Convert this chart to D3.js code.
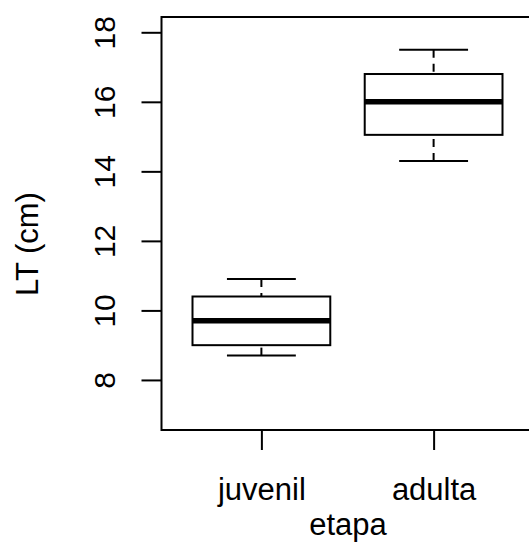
<!DOCTYPE html>
<html>
<head>
<meta charset="utf-8">
<script src="https://cdn.jsdelivr.net/npm/d3@7"></script>
<style>
  html, body { margin: 0; padding: 0; background: #fff; }
  svg { display: block; }
  text { font-family: "Liberation Sans", Arial, Helvetica, sans-serif; fill: #000; }
</style>
</head>
<body>
<svg id="chart" width="529" height="542"></svg>
<script>
// ---- data ----
const categories = ["juvenil", "adulta"];
const lowerWhisker = [8.7, 14.3];
const q1 = [9.0, 15.05];
const medians = [9.7, 16.0];
const q3 = [10.4, 16.8];
const upperWhisker = [10.9, 17.5];
const yTicks = [8, 10, 12, 14, 16, 18];
const yLabel = "LT (cm)";
const xLabel = "etapa";

// ---- layout ----
const W = 529, H = 542;
const plot = { left: 161.5, right: 533.5, top: 17, bottom: 430 };

const svg = d3.select("#chart");

const x = d3.scaleLinear().domain([0.42, 2.58]).range([plot.left, plot.right]);
const y = d3.scaleLinear().domain([6.56, 18.44]).range([plot.bottom, plot.top]);

const data = categories.map((c, i) => ({
  cat: c, pos: i + 1,
  lo: lowerWhisker[i], q1: q1[i], med: medians[i], q3: q3[i], hi: upperWhisker[i]
}));

const boxHalf = 0.4, capHalf = 0.2;

const g = svg.append("g");

data.forEach(d => {
  g.append("line")
    .attr("x1", x(d.pos)).attr("x2", x(d.pos))
    .attr("y1", y(d.hi)).attr("y2", y(d.q3))
    .attr("stroke", "#000").attr("stroke-width", 2).attr("stroke-dasharray", "8,6");
  g.append("line")
    .attr("x1", x(d.pos)).attr("x2", x(d.pos))
    .attr("y1", y(d.lo)).attr("y2", y(d.q1))
    .attr("stroke", "#000").attr("stroke-width", 2).attr("stroke-dasharray", "8,6");
  [d.hi, d.lo].forEach(v => {
    g.append("line")
      .attr("x1", x(d.pos - capHalf)).attr("x2", x(d.pos + capHalf))
      .attr("y1", y(v)).attr("y2", y(v))
      .attr("stroke", "#000").attr("stroke-width", 2);
  });
  g.append("rect")
    .attr("x", x(d.pos - boxHalf)).attr("width", x(d.pos + boxHalf) - x(d.pos - boxHalf))
    .attr("y", y(d.q3)).attr("height", y(d.q1) - y(d.q3))
    .attr("fill", "#fff").attr("stroke", "#000").attr("stroke-width", 2);
  g.append("line")
    .attr("x1", x(d.pos - boxHalf)).attr("x2", x(d.pos + boxHalf))
    .attr("y1", y(d.med)).attr("y2", y(d.med))
    .attr("stroke", "#000").attr("stroke-width", 5.5);
});

// frame
svg.append("rect")
  .attr("x", plot.left).attr("y", plot.top)
  .attr("width", plot.right - plot.left).attr("height", plot.bottom - plot.top)
  .attr("fill", "none").attr("stroke", "#000").attr("stroke-width", 2);

// y axis
const yAxis = svg.append("g")
  .attr("transform", `translate(${plot.left},0)`)
  .call(d3.axisLeft(y).tickValues(yTicks).tickSize(20).tickFormat(d3.format("d")));
yAxis.select(".domain").remove();
yAxis.selectAll(".tick line").attr("stroke", "#000").attr("stroke-width", 2);
yAxis.selectAll(".tick text")
  .attr("x", 0).attr("dy", 0)
  .attr("transform", `translate(${114.5 - plot.left},0) rotate(-90)`)
  .attr("text-anchor", "middle")
  .style("font-size", "30px")
  .style("font-family", "'Liberation Sans', Arial, Helvetica, sans-serif")
  .attr("fill", "#000");

// x axis
const xAxis = svg.append("g")
  .attr("transform", `translate(0,${plot.bottom})`)
  .call(d3.axisBottom(x).tickValues(data.map(d => d.pos)).tickSize(20)
        .tickFormat((v) => categories[v - 1]));
xAxis.select(".domain").remove();
xAxis.selectAll(".tick line").attr("stroke", "#000").attr("stroke-width", 2);
xAxis.selectAll(".tick text")
  .attr("y", 500 - plot.bottom).attr("dy", 0)
  .attr("text-anchor", "middle")
  .style("font-size", "31px")
  .style("font-family", "'Liberation Sans', Arial, Helvetica, sans-serif")
  .attr("fill", "#000");

// axis titles
svg.append("text")
  .attr("transform", `translate(37.5,244) rotate(-90)`)
  .attr("text-anchor", "middle")
  .style("font-size", "31px")
  .text(yLabel);

svg.append("text")
  .attr("x", 348).attr("y", 535)
  .attr("text-anchor", "middle")
  .style("font-size", "31px")
  .text(xLabel);
</script>
</body>
</html>
